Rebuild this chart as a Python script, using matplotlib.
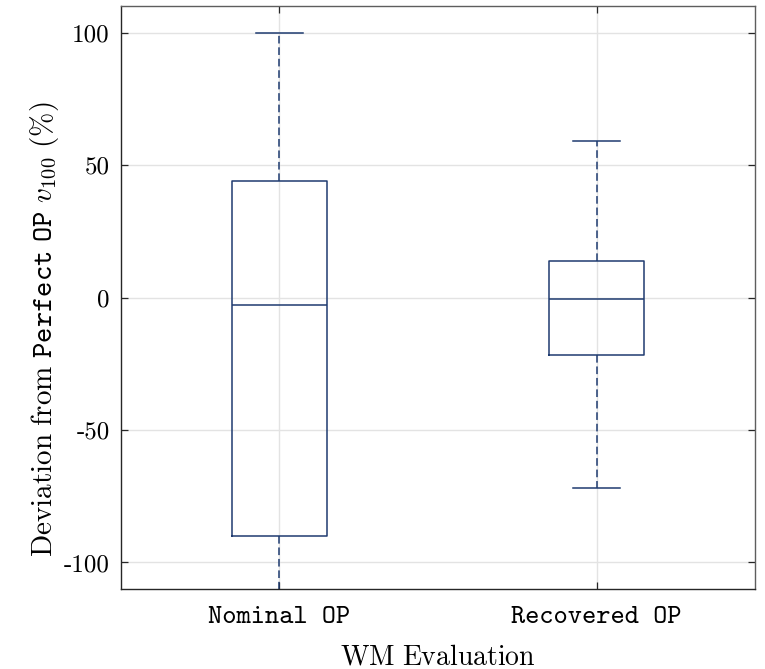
import matplotlib
matplotlib.use("Agg")
import matplotlib.pyplot as plt

plt.rcParams['mathtext.fontset'] = 'cm'
plt.rcParams['axes.unicode_minus'] = False

categories = ["Nominal OP", "Recovered OP"]
whisker_low = [-118, -72]
q1 = [-90, -21.6]
median = [-3, -0.4]
q3 = [44, 13.6]
whisker_high = [100, 59]
yticks = [-100, -50, 0, 50, 100]

navy = '#1f3b70'
axis_col = '#262626'

stats = []
for i, name in enumerate(categories):
    stats.append(dict(label=name, whislo=whisker_low[i], q1=q1[i], med=median[i],
                      q3=q3[i], whishi=whisker_high[i], fliers=[]))

fig = plt.figure(figsize=(7.65, 6.69), dpi=100)
ax = fig.add_axes([0.158, 0.1196, 0.829, 0.8714])

ax.bxp(stats, positions=[1, 2], widths=0.3, showfliers=False,
       boxprops=dict(color=navy, linewidth=1.1),
       medianprops=dict(color=navy, linewidth=1.1),
       whiskerprops=dict(color=navy, linewidth=1.1, linestyle=(0, (5, 2.5))),
       capprops=dict(color=navy, linewidth=1.1),
       capwidths=0.15)

ax.set_xlim(0.5, 2.5)
ax.set_ylim(-110, 110)
ax.set_yticks(yticks)
ax.set_yticklabels([str(v) for v in yticks], family='cmr10', fontsize=18)
ax.set_xticks([1, 2])
ax.set_xticklabels(categories, family='cmtt10', fontsize=19.5)

ax.grid(True, color='#e3e3e3', linewidth=1.0)
ax.set_axisbelow(True)
ax.tick_params(direction='in', length=5, width=0.9, color=axis_col,
               top=True, right=True)
ax.tick_params(axis='y', pad=8)
ax.tick_params(axis='x', pad=12)
for side, s in ax.spines.items():
    s.set_linewidth(1.0)
    s.set_color(axis_col if side in ('left', 'bottom') else '#5e5e5e')

ax.set_xlabel(r"$\mathrm{WM\ Evaluation}$", fontsize=20, labelpad=10)
ax.set_ylabel(r"$\mathrm{Deviation\ from\ }\mathtt{Perfect\ OP}\ v_{100}\ \mathrm{(\%)}$",
              fontsize=21)
ax.yaxis.set_label_coords(-0.094, 0.445)

fig.savefig("out.png", dpi=100)
